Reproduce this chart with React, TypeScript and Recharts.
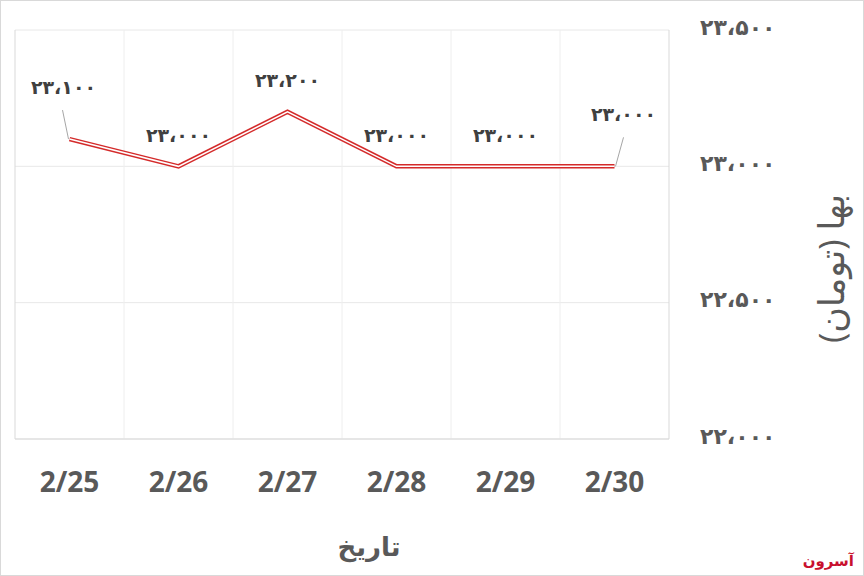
import React from "react";
import {
  LineChart,
  Line,
  XAxis,
  YAxis,
  CartesianGrid,
  ReferenceLine,
  LabelList,
} from "recharts";

const dates = ["2/25", "2/26", "2/27", "2/28", "2/29", "2/30"];
const prices = [23100, 23000, 23200, 23000, 23000, 23000];
const priceTicks = [22000, 22500, 23000, 23500];
const bandEdges = [1, 2, 3, 4, 5];

const data = dates.map((d, i) => ({ pos: i + 0.5, date: d, price: prices[i] }));

const faDigits = "۰۱۲۳۴۵۶۷۸۹";
const toFa = (n: number) =>
  n
    .toLocaleString("en-US")
    .replace(/\d/g, (c) => faDigits[Number(c)])
    .replace(/,/g, "،");

const FONT = "'Open Sans', 'DejaVu Sans', sans-serif";
const TEXT = "#595959";

const DateTick = ({ x, y, payload }: any) => (
  <text
    x={x}
    y={y + 53}
    textAnchor="middle"
    fill={TEXT}
    fontSize={28}
    fontWeight={700}
    fontFamily={FONT}
  >
    {dates[Math.floor(payload.value)]}
  </text>
);

const PriceTick = ({ x, y, payload }: any) => (
  <text
    x={x + 31}
    y={y - 3}
    dy="0.35em"
    textAnchor="start"
    fill={TEXT}
    fontSize={22}
    fontWeight={700}
    fontFamily={FONT}
  >
    {toFa(payload.value)}
  </text>
);

const PriceLabel = (props: any) => {
  const { x, y, value, index } = props;
  const last = prices.length - 1;
  let tx = x;
  let ty = y - 31;
  let leader: number[] | null = null;
  if (index === 0) {
    tx = x - 6;
    ty = y - 52;
    leader = [x - 7, y - 29, x - 1, y];
  } else if (index === last) {
    tx = x + 9;
    ty = y - 52;
    leader = [x + 9, y - 29, x + 1, y];
  }
  return (
    <g>
      {leader && (
        <line
          x1={leader[0]}
          y1={leader[1]}
          x2={leader[2]}
          y2={leader[3]}
          stroke="#a6a6a6"
          strokeWidth={1}
        />
      )}
      <text
        x={tx}
        y={ty}
        dy="0.35em"
        textAnchor="middle"
        fill="#404040"
        fontSize={19}
        fontWeight={700}
        fontFamily={FONT}
      >
        {toFa(value)}
      </text>
    </g>
  );
};

const DateTitle = ({ viewBox }: any) => (
  <text
    x={viewBox.x + viewBox.width / 2 + 27}
    y={viewBox.y + 108}
    dy="0.35em"
    textAnchor="middle"
    fill={TEXT}
    fontSize={26}
    fontWeight={700}
    fontFamily={FONT}
  >
    تاریخ
  </text>
);

const PriceTitle = ({ viewBox }: any) => {
  const cx = viewBox.x + 163;
  const cy = viewBox.y + viewBox.height / 2 + 34;
  return (
    <text
      x={cx}
      y={cy}
      dy="0.35em"
      textAnchor="middle"
      fill={TEXT}
      fontSize={35}
      fontFamily={FONT}
      transform={`rotate(-90 ${cx} ${cy})`}
    >
      بها (تومان)
    </text>
  );
};

export default function App() {
  return (
    <div
      style={{
        position: "absolute",
        left: 0,
        top: 0,
        width: 864,
        height: 576,
        background: "#fff",
      }}
    >
      <LineChart
        width={864}
        height={576}
        data={data}
        margin={{ top: 30, right: 0, left: 15, bottom: 0 }}
      >
        <CartesianGrid vertical={false} stroke="#e8e8e8" />
        {bandEdges.map((e) => (
          <ReferenceLine key={e} x={e} stroke="#eeeeee" />
        ))}
        <ReferenceLine x={0} stroke="#d9d9d9" />
        <ReferenceLine x={6} stroke="#d9d9d9" />
        <XAxis
          type="number"
          dataKey="pos"
          domain={[0, 6]}
          ticks={data.map((d) => d.pos)}
          tick={<DateTick />}
          tickLine={false}
          tickSize={0}
          tickMargin={0}
          axisLine={{ stroke: "#d9d9d9" }}
          height={137}
          label={<DateTitle />}
        />
        <YAxis
          orientation="right"
          domain={[22000, 23500]}
          ticks={priceTicks}
          tick={<PriceTick />}
          tickLine={false}
          tickSize={0}
          tickMargin={0}
          axisLine={false}
          width={195}
          label={<PriceTitle />}
        />
        <Line
          dataKey="price"
          stroke="#d42a2a"
          strokeWidth={4.5}
          dot={false}
          activeDot={false}
          isAnimationActive={false}
        />
        <Line
          dataKey="price"
          stroke="#ffffff"
          strokeWidth={1.5}
          dot={false}
          activeDot={false}
          isAnimationActive={false}
        >
          <LabelList dataKey="price" content={<PriceLabel />} />
        </Line>
      </LineChart>
      <div
        style={{
          position: "absolute",
          right: 10,
          bottom: 6,
          color: "#c8102e",
          fontFamily: FONT,
          fontWeight: 700,
          fontSize: 15,
        }}
      >
        آسرون
      </div>
      <div
        style={{
          position: "absolute",
          inset: 0,
          border: "1px solid #d9d9d9",
          pointerEvents: "none",
        }}
      />
    </div>
  );
}
